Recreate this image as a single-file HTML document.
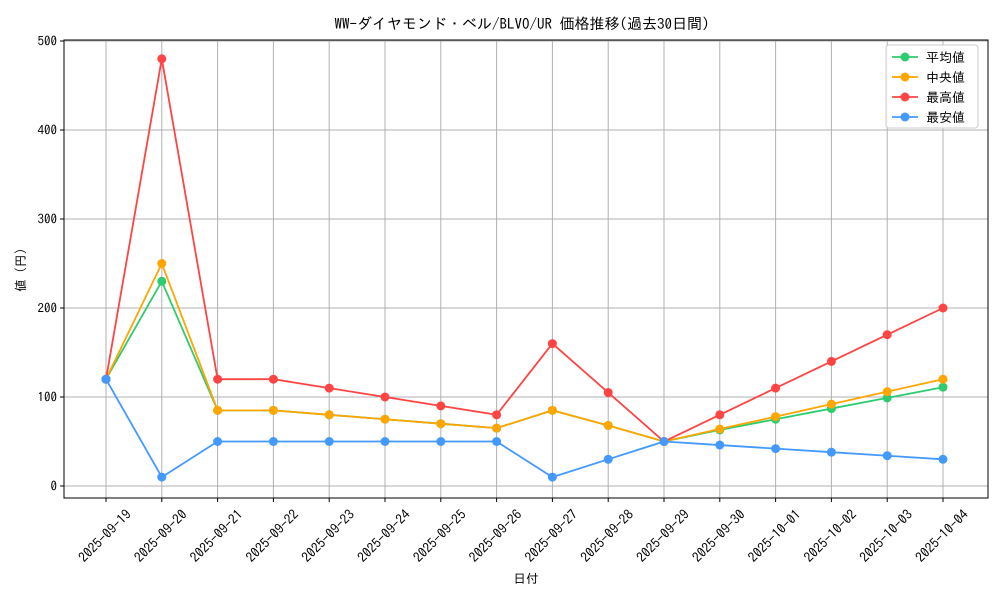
<!DOCTYPE html>
<html><head><meta charset="utf-8"><style>
html,body{margin:0;padding:0;background:#fff;}
svg text{font-family:"IPAGothic","Noto Sans CJK JP",monospace;fill:#000;}
</style></head><body>
<svg id="chart" width="1000" height="600" xmlns="http://www.w3.org/2000/svg">
<rect x="0" y="0" width="1000" height="600" fill="#fff"/>
<text x="522" y="29" font-size="15" text-anchor="middle">WW-ダイヤモンド・ベル/BLVO/UR 価格推移(過去30日間)</text>
<g id="grid"></g><g id="axes"></g><g id="series"></g>
<text x="526" y="583" font-size="12.5" text-anchor="middle">日付</text>
<text transform="translate(25,270) rotate(-90)" font-size="12.5" text-anchor="middle">値 (円)</text>
<g id="legend"></g>
</svg>
<script>
const categories=["2025-09-19","2025-09-20","2025-09-21","2025-09-22","2025-09-23","2025-09-24","2025-09-25","2025-09-26","2025-09-27","2025-09-28","2025-09-29","2025-09-30","2025-10-01","2025-10-02","2025-10-03","2025-10-04"];
const meanValues=[120,230,85,85,80,75,70,65,85,68,50,63,75,87,99,111];
const medianValues=[120,250,85,85,80,75,70,65,85,68,50,64,78,92,106,120];
const maxValues=[120,480,120,120,110,100,90,80,160,105,50,80,110,140,170,200];
const minValues=[120,10,50,50,50,50,50,50,10,30,50,46,42,38,34,30];
const yTicks=[0,100,200,300,400,500];
const seriesNames=["平均値","中央値","最高値","最安値"];
const NS="http://www.w3.org/2000/svg";
const L=64,R=988,T=40,B=498;
const x0=106,x1=943;
function xs(i){return x0+(x1-x0)*i/(categories.length-1);}
function ys(v){return 486-v*0.89;}
function mk(tag,attrs,parent){const e=document.createElementNS(NS,tag);for(const k in attrs)e.setAttribute(k,attrs[k]);parent.appendChild(e);return e;}
const grid=document.getElementById('grid'),axes=document.getElementById('axes'),ser=document.getElementById('series'),leg=document.getElementById('legend');
categories.forEach((c,i)=>{
 const g=mk('line',{x1:xs(i),x2:xs(i),y1:T,y2:B,stroke:'#b0b0b0','stroke-width':1},grid);
 
 
 mk('line',{x1:xs(i),x2:xs(i),y1:B,y2:B+4,stroke:'#000'},axes);
 const t=mk('text',{x:0,y:4.5,'font-size':13.5,'text-anchor':'middle',transform:`translate(${xs(i)-1},${B+38}) rotate(-45)`},axes);
 t.textContent=c;
 
 
});
yTicks.forEach(v=>{
 const g=mk('line',{x1:L,x2:R,y1:ys(v),y2:ys(v),stroke:'#b0b0b0','stroke-width':1},grid);
 
 
 mk('line',{x1:L-4,x2:L,y1:ys(v),y2:ys(v),stroke:'#000'},axes);
 const t=mk('text',{x:L-7,y:ys(v)+4.5,'font-size':13,'text-anchor':'end'},axes);
 t.textContent=v;
 
 
});
const frame=mk('rect',{x:L,y:T,width:R-L,height:B-T,fill:'none',stroke:'#000','stroke-width':1},axes);


const series=[[meanValues,'#2ecc71','mean'],[medianValues,'#ffa500','median'],[maxValues,'#ff4444','max'],[minValues,'#4499ff','min']];
series.forEach(([vals,col,nm])=>{
 const g=mk('g',{},ser);
 
 
 const p=mk('polyline',{points:vals.map((v,i)=>xs(i)+','+ys(v)).join(' '),fill:'none',stroke:col,'stroke-width':1.8},g);
 
 
 vals.forEach((v,i)=>{
  const c=mk('circle',{cx:xs(i),cy:ys(v),r:4.5,fill:col},g);
  
  
 });
});
const box=mk('rect',{x:886,y:45,width:92,height:83,rx:3,fill:'#fff','fill-opacity':0.9,stroke:'#ccc'},leg);


series.forEach(([v,col,nm],k)=>{
 const y=57+k*20;
 const g=mk('g',{},leg);
 
 
 mk('line',{x1:892,x2:918,y1:y,y2:y,stroke:col,'stroke-width':1.8},g);
 mk('circle',{cx:905,cy:y,r:4.5,fill:col},g);
 const t=mk('text',{x:926,y:y+5,'font-size':13},g);
 t.textContent=(k==1?' ':'')+seriesNames[k];
});
</script>
</body></html>
